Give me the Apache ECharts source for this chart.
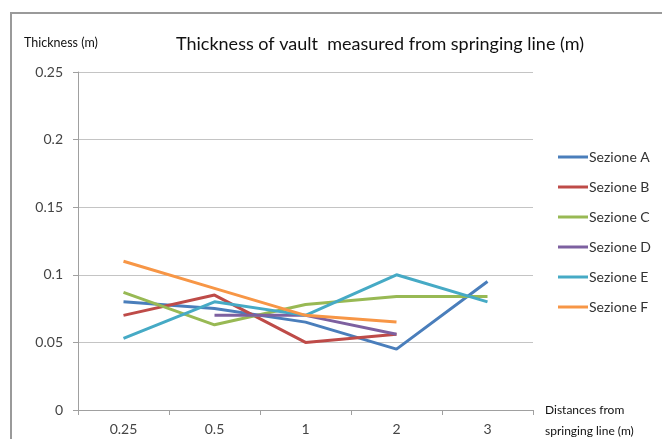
<!DOCTYPE html>
<html>
<head>
<meta charset="utf-8">
<script src="https://cdn.jsdelivr.net/npm/echarts@6/dist/echarts.min.js"></script>
<style>
  html, body { margin: 0; padding: 0; background: #fff; }
  #chart { width: 662px; height: 439px; }
</style>
</head>
<body>
<div id="chart"></div>
<script>
const distances = ['0.25', '0.5', '1', '2', '3'];
const sezioneA = [0.080, 0.075, 0.065, 0.045, 0.095];
const sezioneB = [0.070, 0.085, 0.050, 0.056, null];
const sezioneC = [0.087, 0.063, 0.078, 0.084, 0.084];
const sezioneD = [null, 0.070, 0.070, 0.056, null];
const sezioneE = [0.053, 0.080, 0.070, 0.100, 0.080];
const sezioneF = [0.110, 0.090, 0.070, 0.065, null];

const seriesNames = ['Sezione A', 'Sezione B', 'Sezione C', 'Sezione D', 'Sezione E', 'Sezione F'];
const seriesValues = [sezioneA, sezioneB, sezioneC, sezioneD, sezioneE, sezioneF];
const colors = ['#4A7EBB', '#BE4B48', '#98B954', '#7D60A0', '#46AAC5', '#F79646'];

const font = 'Lato, "Open Sans", sans-serif';
const chart = echarts.init(document.getElementById('chart'));

chart.setOption({
  animation: false,
  color: colors,
  textStyle: { fontFamily: font },
  graphic: [
    {
      type: 'rect',
      shape: { x: 11, y: 13, width: 700, height: 500 },
      style: { fill: 'none', stroke: '#9a9a9a', lineWidth: 2 }
    },
    {
      type: 'text', left: 176, top: 35,
      style: { text: 'Thickness of vault  measured from springing line (m)', font: '18px ' + font, fill: '#111' }
    },
    {
      type: 'text', left: 24, top: 36,
      style: { text: 'Thickness (m)', font: '12.5px ' + font, fill: '#111' }
    },
    {
      type: 'text', left: 545, top: 400,
      style: { text: 'Distances from\nspringing line (m)', font: '12px ' + font, fill: '#111', lineHeight: 21 }
    }
  ],
  legend: {
    orient: 'vertical',
    left: 553,
    top: 145,
    icon: 'rect',
    itemWidth: 30,
    itemHeight: 3,
    itemGap: 16,
    textStyle: { fontSize: 14, color: '#333', padding: [0, 0, 0, -4] },
    data: seriesNames
  },
  grid: { left: 78, right: 129, top: 72, bottom: 29 },
  xAxis: {
    type: 'category',
    data: distances,
    boundaryGap: true,
    axisLine: { lineStyle: { color: '#a0a0a0' } },
    axisTick: { show: true, length: 5, lineStyle: { color: '#a0a0a0' } },
    axisLabel: { color: '#444', fontSize: 14, margin: 12 }
  },
  yAxis: {
    type: 'value',
    min: 0,
    max: 0.25,
    interval: 0.05,
    axisLine: { show: true, lineStyle: { color: '#a0a0a0' } },
    axisTick: { show: true, length: 5, lineStyle: { color: '#a0a0a0' } },
    axisLabel: { color: '#444', fontSize: 14, margin: 15 },
    splitLine: { lineStyle: { color: '#c4c4c4' } }
  },
  series: seriesNames.map((name, i) => ({
    name: name,
    type: 'line',
    data: seriesValues[i],
    symbol: 'none',
    lineStyle: { width: 3, color: colors[i] },
    itemStyle: { color: colors[i] }
  }))
});
</script>
</body>
</html>
